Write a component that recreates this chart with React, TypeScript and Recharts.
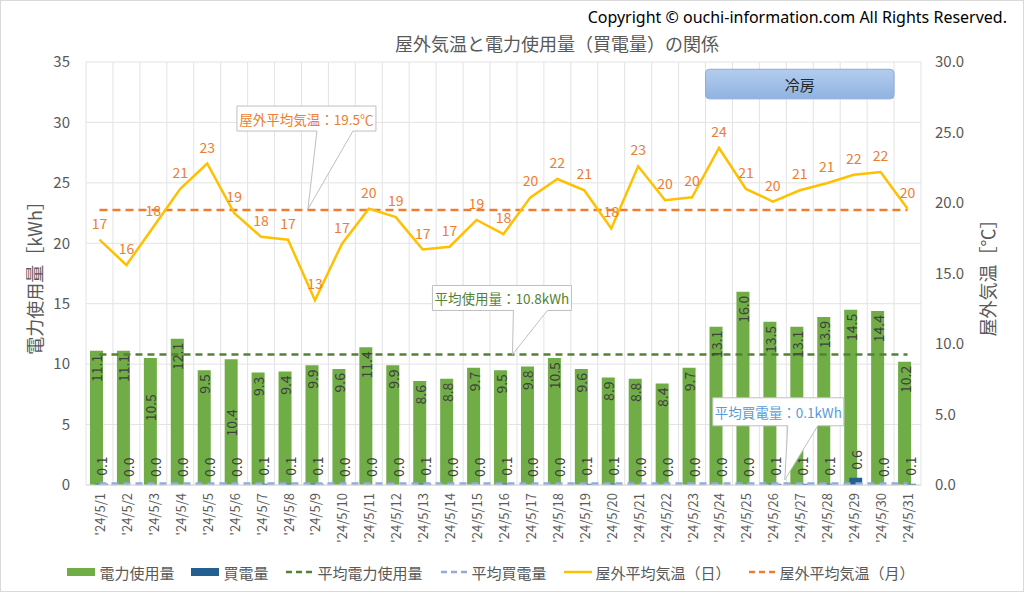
import React from 'react';
import {
  ComposedChart, Bar, Line, XAxis, YAxis, CartesianGrid, Legend,
  LabelList, ReferenceDot, ReferenceArea,
} from 'recharts';

const FONT = "'Noto Sans CJK JP', 'Noto Sans', sans-serif";

// data
const days = [
  "'24/5/1", "'24/5/2", "'24/5/3", "'24/5/4", "'24/5/5", "'24/5/6", "'24/5/7", "'24/5/8",
  "'24/5/9", "'24/5/10", "'24/5/11", "'24/5/12", "'24/5/13", "'24/5/14", "'24/5/15", "'24/5/16",
  "'24/5/17", "'24/5/18", "'24/5/19", "'24/5/20", "'24/5/21", "'24/5/22", "'24/5/23", "'24/5/24",
  "'24/5/25", "'24/5/26", "'24/5/27", "'24/5/28", "'24/5/29", "'24/5/30", "'24/5/31",
];
const usage = [
  11.1, 11.1, 10.5, 12.1, 9.5, 10.4, 9.3, 9.4, 9.9, 9.6, 11.4, 9.9, 8.6, 8.8, 9.7, 9.5,
  9.8, 10.5, 9.6, 8.9, 8.8, 8.4, 9.7, 13.1, 16.0, 13.5, 13.1, 13.9, 14.5, 14.4, 10.2,
];
const purchase = [
  0.1, 0, 0, 0, 0, 0, 0.1, 0.1, 0.1, 0, 0, 0, 0.1, 0, 0, 0.1,
  0, 0, 0.1, 0.1, 0, 0, 0, 0, 0, 0.1, 0.1, 0.1, 0.6, 0, 0.1,
];
const temps = [
  17.4, 15.6, 18.3, 21.0, 22.8, 19.3, 17.6, 17.4, 13.1, 17.1, 19.6, 19.0, 16.7, 16.9, 18.8, 17.8,
  20.4, 21.7, 20.9, 18.2, 22.6, 20.2, 20.4, 23.9, 21.0, 20.1, 20.9, 21.4, 22.0, 22.2, 19.6,
];
const AVG_USAGE = 10.8;
const AVG_PURCHASE = 0.1;
const AVG_TEMP = 19.5;
const leftTicks = [0, 5, 10, 15, 20, 25, 30, 35];
const rightTicks = [0, 5, 10, 15, 20, 25, 30];

const data = days.map((d, i) => ({
  day: d,
  usage: usage[i],
  purchase: purchase[i],
  temp: temps[i],
  avgUsage: AVG_USAGE,
  avgPurchase: AVG_PURCHASE,
  avgTemp: AVG_TEMP,
}));

// a couple of usage labels were pushed down in the original to clear the avg line
const labelNudge: Record<string, number> = { "'24/5/3": 32, "'24/5/6": 46 };
const BAR = 13;
const BAR_GAP = -8;

const XTick = ({ x, y, payload }: any) => (
  <text x={x} y={y} transform={`rotate(-90, ${x}, ${y})`} textAnchor="end"
    dominantBaseline="central" fontSize={13} fill="#595959" fontFamily={FONT}>
    {payload.value}
  </text>
);

const UsageLabel = ({ x, y, width, value, index }: any) => {
  const cx = x + width / 2;
  const ty = y + 4 + (labelNudge[days[index]] || 0);
  return (
    <text x={cx} y={ty} transform={`rotate(-90, ${cx}, ${ty})`} textAnchor="end"
      dominantBaseline="central" fontSize={14} fill="#404040" fontFamily={FONT}>
      {Number(value).toFixed(1)}
    </text>
  );
};

// purchase labels hang off the green bar geometry so that zero values still get one
const PurchaseLabel = ({ x, y, width, height, value, index }: any) => {
  const base = y + height;
  const perUnit = height / usage[index];
  const cx = x + width + BAR_GAP + width / 2;
  const ty = base - Number(value) * perUnit - 8;
  return (
    <text x={cx} y={ty} transform={`rotate(-90, ${cx}, ${ty})`} textAnchor="start"
      dominantBaseline="central" fontSize={14} fill="#404040" fontFamily={FONT}>
      {Number(value).toFixed(1)}
    </text>
  );
};

function Callout({ cx, cy, box, base, tip, text, color }: any) {
  const [l, t, r, b] = box;
  const pts = [
    [cx + l, cy + t], [cx + r, cy + t], [cx + r, cy + b], [cx + base[1], cy + b],
    [cx + tip[0], cy + tip[1]], [cx + base[0], cy + b], [cx + l, cy + b],
  ].map((p) => p.join(',')).join(' ');
  return (
    <g>
      <polygon points={pts} fill="#fff" stroke="#bfbfbf" strokeWidth={1} />
      <text x={cx + (l + r) / 2} y={cy + (t + b) / 2} textAnchor="middle" dominantBaseline="central"
        fontSize={13.5} fill={color} fontFamily={FONT}>
        {text}
      </text>
    </g>
  );
}

const CoolingBox = ({ x, y, width, height }: any) => (
  <g>
    <defs>
      <linearGradient id="coolFill" x1="0" y1="0" x2="0" y2="1">
        <stop offset="0%" stopColor="#b4cced" />
        <stop offset="100%" stopColor="#8fb3e2" />
      </linearGradient>
    </defs>
    <rect x={x} y={y} width={width} height={height} rx={4} ry={4}
      fill="url(#coolFill)" stroke="#8eaadb" strokeWidth={1} />
    <text x={x + width / 2} y={y + height / 2} textAnchor="middle" dominantBaseline="central"
      fontSize={15} fill="#262626" fontFamily={FONT}>冷房</text>
  </g>
);

const legendItems = [
  { label: '電力使用量', color: '#70AD47', kind: 'rect' },
  { label: '買電量', color: '#255E91', kind: 'rect' },
  { label: '平均電力使用量', color: '#548235', kind: 'dash' },
  { label: '平均買電量', color: '#8FAADC', kind: 'dash' },
  { label: '屋外平均気温（日）', color: '#FFC000', kind: 'line' },
  { label: '屋外平均気温（月）', color: '#ED7D31', kind: 'dash' },
];

const renderLegend = () => (
  <div style={{ display: 'flex', justifyContent: 'center', alignItems: 'center', gap: 17, height: 22,
    fontFamily: FONT, fontSize: 15, color: '#595959' }}>
    {legendItems.map((it) => (
      <div key={it.label} style={{ display: 'flex', alignItems: 'center', gap: 4 }}>
        <svg width={28} height={10}>
          {it.kind === 'rect' && <rect x={0} y={1} width={28} height={8} fill={it.color} />}
          {it.kind === 'line' && <line x1={0} x2={28} y1={5} y2={5} stroke={it.color} strokeWidth={2.5} />}
          {it.kind === 'dash' && <line x1={1} x2={28} y1={5} y2={5} stroke={it.color} strokeWidth={2.5} strokeDasharray="6 4" />}
        </svg>
        <span>{it.label}</span>
      </div>
    ))}
  </div>
);

const verticalLines = ({ offset }: any) => {
  const n = days.length;
  const out: number[] = [];
  for (let i = 0; i <= n; i++) out.push(offset.left + (offset.width * i) / n);
  return out;
};

export default function App() {
  return (
    <div style={{ position: 'absolute', left: 0, top: 0, width: 1022, height: 590,
      border: '1px solid #d9d9d9', background: '#fff', fontFamily: FONT }}>
      <div style={{ position: 'absolute', right: 16, top: 5, fontSize: 16, color: '#000',
        fontFamily: "'Noto Sans', sans-serif", whiteSpace: 'nowrap' }}>
        Copyright © ouchi-information.com All Rights Reserved.
      </div>
      <div style={{ position: 'absolute', left: 0, width: 1112, top: 29, textAlign: 'center',
        fontSize: 18, color: '#595959' }}>
        屋外気温と電力使用量（買電量）の関係
      </div>
      <ComposedChart width={1022} height={590} data={data}
        margin={{ top: 61, right: 42, bottom: 8, left: 0 }} barGap={BAR_GAP}>
        <CartesianGrid yAxisId="left" stroke="#e3e3e3" verticalCoordinatesGenerator={verticalLines} />
        <XAxis dataKey="day" height={76} tick={<XTick />} tickLine={false}
          axisLine={{ stroke: '#d9d9d9' }} interval={0} />
        <YAxis yAxisId="left" width={85} domain={[0, 35]} ticks={leftTicks} tickLine={false}
          axisLine={false} tickMargin={10} tick={{ fill: '#595959', fontSize: 15, fontFamily: FONT }}
          label={{
            content: ({ viewBox }: any) => {
              const lx = viewBox.x + 33;
              const ly = viewBox.y + viewBox.height / 2;
              return (
                <text x={lx} y={ly} transform={`rotate(-90, ${lx}, ${ly})`} textAnchor="middle"
                  dominantBaseline="central" fontSize={18} fill="#595959" fontFamily={FONT}>
                  電力使用量［kWh］
                </text>
              );
            },
          }} />
        <YAxis yAxisId="right" orientation="right" width={60} domain={[0, 30]} ticks={rightTicks}
          tickLine={false} axisLine={false} tickMargin={8} tickFormatter={(v) => v.toFixed(1)}
          tick={{ fill: '#595959', fontSize: 15, fontFamily: FONT, textAnchor: 'start' }}
          label={{
            content: ({ viewBox }: any) => {
              const lx = viewBox.x + 66;
              const ly = viewBox.y + viewBox.height / 2;
              return (
                <text x={lx} y={ly} transform={`rotate(-90, ${lx}, ${ly})`} textAnchor="middle"
                  dominantBaseline="central" fontSize={18} fill="#595959" fontFamily={FONT}>
                  屋外気温［℃］
                </text>
              );
            },
          }} />
        <Legend verticalAlign="bottom" height={22} content={renderLegend} />

        <Bar yAxisId="left" dataKey="usage" name="電力使用量" fill="#70AD47" barSize={BAR}
          isAnimationActive={false}>
          <LabelList dataKey="usage" content={<UsageLabel />} />
          <LabelList dataKey="purchase" content={<PurchaseLabel />} />
        </Bar>
        <Bar yAxisId="left" dataKey="purchase" name="買電量" fill="#255E91" barSize={BAR}
          isAnimationActive={false} />
        <Line yAxisId="left" dataKey="avgUsage" name="平均電力使用量" stroke="#548235" strokeWidth={2.5}
          strokeDasharray="7 5" dot={false} isAnimationActive={false} />
        <Line yAxisId="left" dataKey="avgPurchase" name="平均買電量" stroke="#8FAADC" strokeWidth={3}
          strokeDasharray="7 5" dot={false} isAnimationActive={false} />
        <Line yAxisId="right" dataKey="avgTemp" name="屋外平均気温（月）" stroke="#ED7D31" strokeWidth={2.5}
          strokeDasharray="8 5" dot={false} isAnimationActive={false} />
        <Line yAxisId="right" dataKey="temp" name="屋外平均気温（日）" stroke="#FFC000" strokeWidth={2.5}
          dot={false} isAnimationActive={false}>
          <LabelList dataKey="temp" position="top" offset={11} fill="#ED7D31" fontSize={14}
            fontFamily={FONT} formatter={(v: any) => Math.round(v)} />
        </Line>

        <ReferenceArea yAxisId="left" x1="'24/5/24" x2="'24/5/30" y1={31.95} y2={34.4}
          ifOverflow="visible" shape={<CoolingBox />} />
        <ReferenceDot yAxisId="right" x="'24/5/9" y={AVG_TEMP} r={0} ifOverflow="visible"
          shape={(p: any) => (
            <Callout cx={p.cx} cy={p.cy} box={[-78, -104, 61, -79]} base={[2, 38]} tip={[-7, -1]}
              text={`屋外平均気温：${AVG_TEMP}℃`} color="#ED7D31" />
          )} />
        <ReferenceDot yAxisId="left" x="'24/5/17" y={AVG_USAGE} r={0} ifOverflow="visible"
          shape={(p: any) => (
            <Callout cx={p.cx} cy={p.cy} box={[-98, -69, 41, -44]} base={[-17, 17]} tip={[-18, 0]}
              text={`平均使用量：${AVG_USAGE}kWh`} color="#548235" />
          )} />
        <ReferenceDot yAxisId="left" x="'24/5/27" y={AVG_PURCHASE} r={0} ifOverflow="visible"
          shape={(p: any) => (
            <Callout cx={p.cx} cy={p.cy} box={[-87, -86, 44, -58]} base={[-12, 18]} tip={[-15, -4]}
              text={`平均買電量：${AVG_PURCHASE}kWh`} color="#5B9BD5" />
          )} />
      </ComposedChart>
    </div>
  );
}
